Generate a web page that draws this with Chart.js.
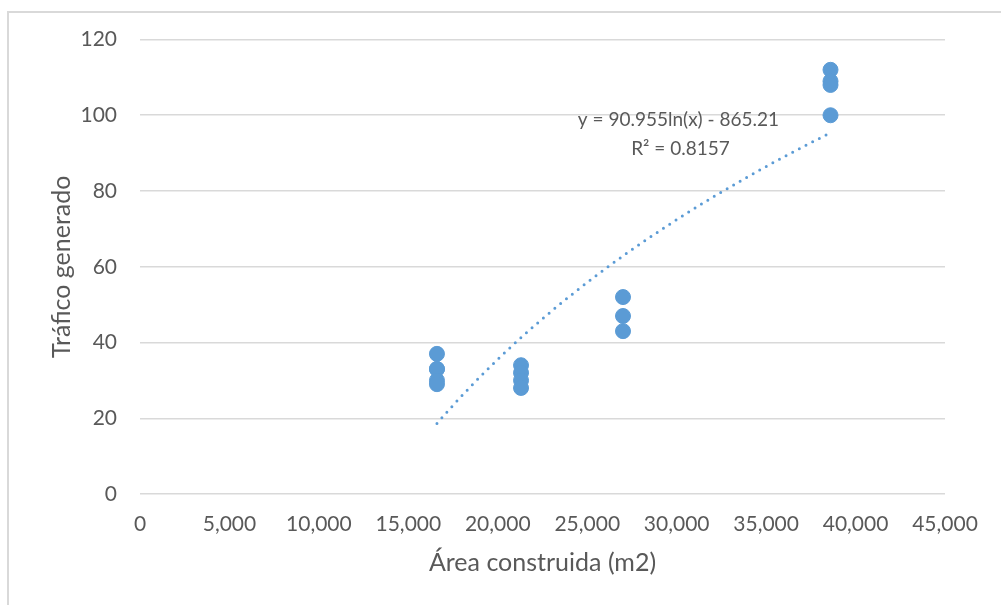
<!DOCTYPE html>
<html>
<head>
<meta charset="utf-8">
<script src="https://cdn.jsdelivr.net/npm/chart.js@4.4.1/dist/chart.umd.min.js"></script>
<style>
    html, body { margin: 0; padding: 0; background: #ffffff; }
    #frame {
        position: absolute; left: 7px; top: 11px; width: 1100px; height: 700px;
        border-left: 2px solid #d9d9d9; border-top: 2px solid #d9d9d9;
    }
    #wrap { position: absolute; left: 0; top: 0; width: 1001px; height: 605px; }
</style>
</head>
<body>
<div id="frame"></div>
<div id="wrap"><canvas id="chart" width="1001" height="605"></canvas></div>
<script>
// Área construida (m2) por grupo de proyectos
let area_x = [16600, 16600, 16600, 16600, 16600,
              21300, 21300, 21300, 21300,
              27000, 27000, 27000,
              38600, 38600, 38600, 38600];
// Tráfico generado
let trafico_y = [37, 33, 33, 30, 29,
                 34, 32, 30, 28,
                 52, 47, 43,
                 112, 109, 108, 100];

// línea de tendencia logarítmica (Excel)
let trend_a = 90.955;
let trend_b = -865.21;
let trend_label = ["y = 90.955ln(x) - 865.21", "R² = 0.8157"];

let x_ticks = [0, 5000, 10000, 15000, 20000, 25000, 30000, 35000, 40000, 45000];
let y_ticks = [0, 20, 40, 60, 80, 100, 120];

let font_family = "Lato, 'Open Sans', sans-serif";
let text_color = "#595959";

let scatter_pts = [];
for (let i = 0; i < area_x.length; i++) {
    scatter_pts.push({x: area_x[i], y: trafico_y[i]});
}

let x_min = Math.min.apply(null, area_x);
let x_max = Math.max.apply(null, area_x);
let trend_pts = [];
for (let i = 0; i <= 60; i++) {
    let xv = x_min + (x_max - x_min) * i / 60;
    trend_pts.push({x: xv, y: trend_a * Math.log(xv) + trend_b});
}

let trendLabelPlugin = {
    id: "trendLabel",
    afterDatasetsDraw(chart) {
        let ctx = chart.ctx;
        let xs = chart.scales.x;
        let ys = chart.scales.y;
        ctx.save();
        ctx.font = "19px " + font_family;
        ctx.fillStyle = text_color;
        ctx.textAlign = "center";
        ctx.textBaseline = "middle";
        let cx = xs.getPixelForValue(30100);
        ctx.fillText(trend_label[0], cx, ys.getPixelForValue(98.7));
        ctx.fillText(trend_label[1], cx + 2, ys.getPixelForValue(91.2));
        ctx.restore();
    }
};

let ctx = document.getElementById("chart").getContext("2d");
let chart = new Chart(ctx, {
    type: "scatter",
    data: {
        datasets: [
            {
                label: "Tráfico generado",
                data: scatter_pts,
                backgroundColor: "#5b9bd5",
                borderColor: "#5b9bd5",
                pointRadius: 7.5,
                pointHoverRadius: 7.5,
                order: 1
            },
            {
                label: "Tendencia",
                type: "line",
                data: trend_pts,
                borderColor: "#5b9bd5",
                borderWidth: 3,
                borderDash: [0, 7.5],
                borderCapStyle: "round",
                pointRadius: 0,
                fill: false,
                tension: 0,
                order: 2
            }
        ]
    },
    options: {
        responsive: false,
        animation: false,
        layout: {padding: {top: 39.5, right: 56, bottom: 22, left: 40}},
        plugins: {
            legend: {display: false},
            tooltip: {enabled: false}
        },
        scales: {
            x: {
                type: "linear",
                min: 0,
                max: 45000,
                afterBuildTicks: function(axis) {
                    axis.ticks = x_ticks.map(v => ({value: v}));
                },
                grid: {display: false, drawTicks: false},
                border: {display: false},
                ticks: {
                    color: text_color,
                    font: {family: font_family, size: 21},
                    padding: 18,
                    maxRotation: 0,
                    autoSkip: false,
                    callback: v => v.toLocaleString("en-US")
                },
                title: {
                    display: true,
                    text: "Área construida (m2)",
                    color: text_color,
                    font: {family: font_family, size: 25},
                    padding: {top: 6, bottom: 5}
                },
                afterFit: function(axis) { axis.height = 89; }
            },
            y: {
                min: 0,
                max: 120,
                afterBuildTicks: function(axis) {
                    axis.ticks = y_ticks.map(v => ({value: v}));
                },
                grid: {color: "#d9d9d9", lineWidth: 1.5, drawTicks: false},
                border: {display: false},
                ticks: {
                    color: text_color,
                    font: {family: font_family, size: 21},
                    padding: 23
                },
                title: {
                    display: true,
                    text: "Tráfico generado",
                    color: text_color,
                    font: {family: font_family, size: 25},
                    padding: {top: 7, bottom: 6}
                },
                afterFit: function(axis) { axis.width = 100; }
            }
        }
    },
    plugins: [trendLabelPlugin]
});
</script>
</body>
</html>
